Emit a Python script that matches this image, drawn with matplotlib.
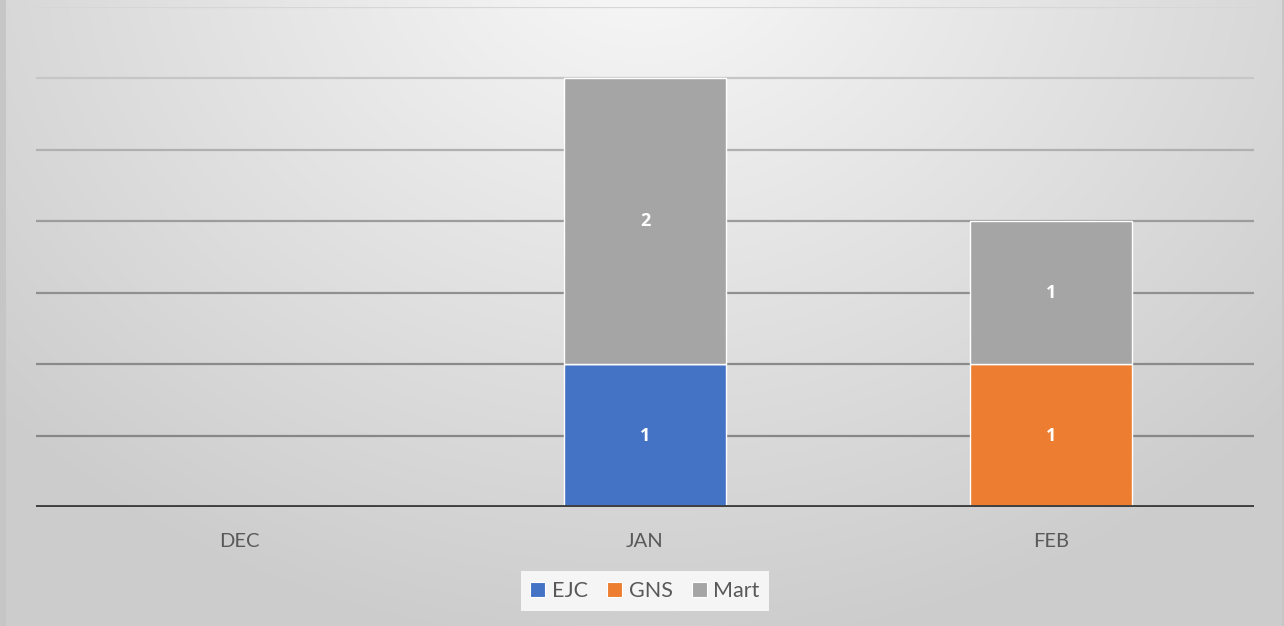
import numpy as np
import matplotlib
matplotlib.use("Agg")
import matplotlib.pyplot as plt
from matplotlib.patches import Patch

months = ["DEC", "JAN", "FEB"]
ejc = [0, 1, 0]
gns = [0, 0, 1]
mart = [0, 2, 1]
series_names = ["EJC", "GNS", "Mart"]
colors = ["#4472C4", "#ED7D31", "#A5A5A5"]

plt.rcParams['font.family'] = ['Lato', 'DejaVu Sans']

W, H = 1284, 626
fig = plt.figure(figsize=(W / 100, H / 100), dpi=100)

# background radial gradient
bg = fig.add_axes([0, 0, 1, 1], zorder=-10)
yy, xx = np.mgrid[0:H, 0:W]
cx, cy = W * 0.5, -60
d = np.sqrt(((xx - cx) / (W * 0.68)) ** 2 + ((yy - cy) / (H * 1.15)) ** 2)
d = np.clip(d, 0, 1)
top = np.array([0.975, 0.975, 0.975])
edge = np.array([0.80, 0.80, 0.80])
img = top[None, None, :] * (1 - d[..., None]) + edge[None, None, :] * d[..., None]
img[:, :6, :] = np.minimum(img[:, :6, :], 0.78)
img[:, -2:, :] = np.minimum(img[:, -2:, :], 0.78)
bg.imshow(img, aspect='auto', extent=[0, W, H, 0])
bg.set_axis_off()

ax = fig.add_axes([36 / W, 1 - 507 / H, (1254 - 36) / W, (507 - 7) / H])
ax.patch.set_alpha(0)
x = np.arange(len(months))
width = 0.397

bottom = np.zeros(len(months))
for name, vals, c in zip(series_names, [ejc, gns, mart], colors):
    vals = np.array(vals, dtype=float)
    ax.bar(x, vals, width, bottom=bottom, color=c, edgecolor='white',
           linewidth=1.0, label=name, zorder=3)
    for xi, v, b in zip(x, vals, bottom):
        if v > 0:
            ax.text(xi, b + v / 2, f"{int(v)}", ha='center', va='center',
                    color='white', fontsize=13, fontweight='bold',
                    family=['Open Sans', 'DejaVu Sans'], zorder=4)
    bottom += vals

ax.set_xlim(-0.5, 2.5)
ax.set_ylim(0, 3.5)
grid_vals = [0.5, 1.0, 1.5, 2.0, 2.5, 3.0, 3.5]
grid_cols = ["#878787", "#8a8a8a", "#909090", "#9c9c9c", "#b0b0b0", "#c6c6c6", "#d6d6d6"]
for gv, gc in zip(grid_vals, grid_cols):
    ax.axhline(gv, color=gc, linewidth=1.6, zorder=1)
ax.axhline(0, color="#404040", linewidth=2.8, zorder=5)

for s in ax.spines.values():
    s.set_visible(False)
ax.set_yticks([])
ax.set_xticks(x)
ax.set_xticklabels(months, fontsize=14.5, color="#595959")
ax.tick_params(axis='x', length=0, pad=19)

handles = [Patch(facecolor=c, edgecolor='white', linewidth=0.8) for c in colors]
leg = fig.legend(handles, series_names, loc='center', bbox_to_anchor=(645 / W, 1 - 591 / H),
                 ncol=3, frameon=True, fontsize=15.5, handlelength=0.7, handleheight=0.7,
                 handletextpad=0.3, columnspacing=0.9, borderpad=0.45)
leg.get_frame().set_facecolor((1, 1, 1, 0.22))
leg.get_frame().set_edgecolor('none')
leg.get_frame().set_boxstyle('square', pad=0)
for t in leg.get_texts():
    t.set_color("#595959")

fig.savefig("out.png", dpi=100)
